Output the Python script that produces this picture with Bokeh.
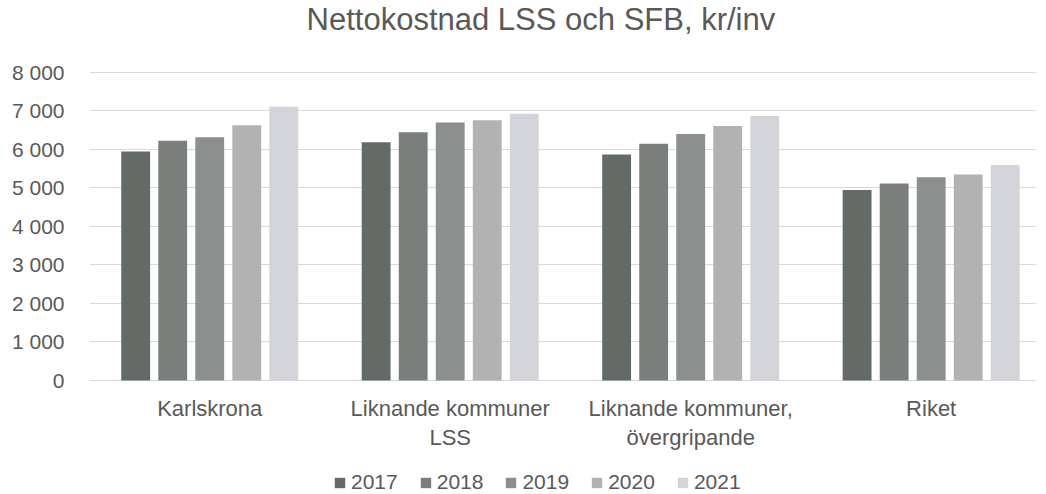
from bokeh.plotting import figure
from bokeh.models import Range1d, FixedTicker, ColumnDataSource, Legend, LegendItem
from bokeh.core.properties import value
from bokeh.embed import file_html
from bokeh.resources import INLINE

title_text = "Nettokostnad LSS och SFB, kr/inv"
categories = ["Karlskrona", "Liknande kommuner\nLSS", "Liknande kommuner,\növergripande", "Riket"]
years = ["2017", "2018", "2019", "2020", "2021"]
values = {
    "2017": [5950, 6190, 5870, 4950],
    "2018": [6230, 6450, 6150, 5120],
    "2019": [6320, 6700, 6400, 5280],
    "2020": [6630, 6760, 6610, 5350],
    "2021": [7110, 6930, 6870, 5600],
}
colors = ["#646b67", "#7a7f7c", "#8b8f8d", "#b2b2b2", "#d3d3da"]
y_ticks = [0, 1000, 2000, 3000, 4000, 5000, 6000, 7000, 8000]
y_tick_labels = ["0", "1 000", "2 000", "3 000", "4 000", "5 000", "6 000", "7 000", "8 000"]

FONT = "Liberation Sans"
TXT = "#595959"

p = figure(width=1046, height=494, output_backend="svg", toolbar_location=None,
           x_range=Range1d(0, 3.938), y_range=Range1d(-2961, 9870), x_axis_location=None,
           min_border_left=89, min_border_right=10, min_border_top=0, min_border_bottom=0)
p.outline_line_color = None
p.background_fill_color = "white"
p.border_fill_color = "white"

offsets = [-0.308, -0.154, 0.0, 0.154, 0.308]
items = []
for yr, off, col in zip(years, offsets, colors):
    src = ColumnDataSource(dict(x=[i + 0.5 + off for i in range(len(categories))], top=values[yr]))
    r = p.vbar(x="x", top="top", width=0.12, source=src, fill_color=col, line_color=None)
    items.append(LegendItem(label=yr, renderers=[r]))

# category labels (drawn as text below the baseline)
p.text(x=[i + 0.5 for i in range(len(categories))], y=[-410] * len(categories), text=categories,
       text_align="center", text_baseline="top", text_font=value(FONT), text_font_size="22px",
       text_color=TXT, text_line_height=1.15)

# chart title
p.text(x=[1.877], y=[9377], text=[title_text], text_align="center", text_baseline="middle",
       text_font=value(FONT), text_font_size="31px", text_color=TXT)

p.xgrid.grid_line_color = None
p.ygrid.grid_line_color = "#d9d9d9"
p.ygrid.ticker = FixedTicker(ticks=y_ticks)

ya = p.yaxis[0]
ya.ticker = FixedTicker(ticks=y_ticks)
ya.major_label_overrides = {t: l for t, l in zip(y_ticks, y_tick_labels)}
ya.axis_line_color = None
ya.major_tick_line_color = None
ya.minor_tick_line_color = None
ya.major_label_text_font = FONT
ya.major_label_text_font_size = "21px"
ya.major_label_text_color = TXT
ya.major_label_standoff = 19

legend = Legend(items=items, orientation="horizontal", location=(244, 0),
                label_text_font=FONT, label_text_font_size="21px", label_text_color=TXT,
                glyph_width=13, glyph_height=13, label_standoff=5, spacing=21,
                padding=0, margin=0, border_line_color=None, background_fill_alpha=0)
p.add_layout(legend, "center")

open("out.html", "w").write(file_html(p, INLINE))
